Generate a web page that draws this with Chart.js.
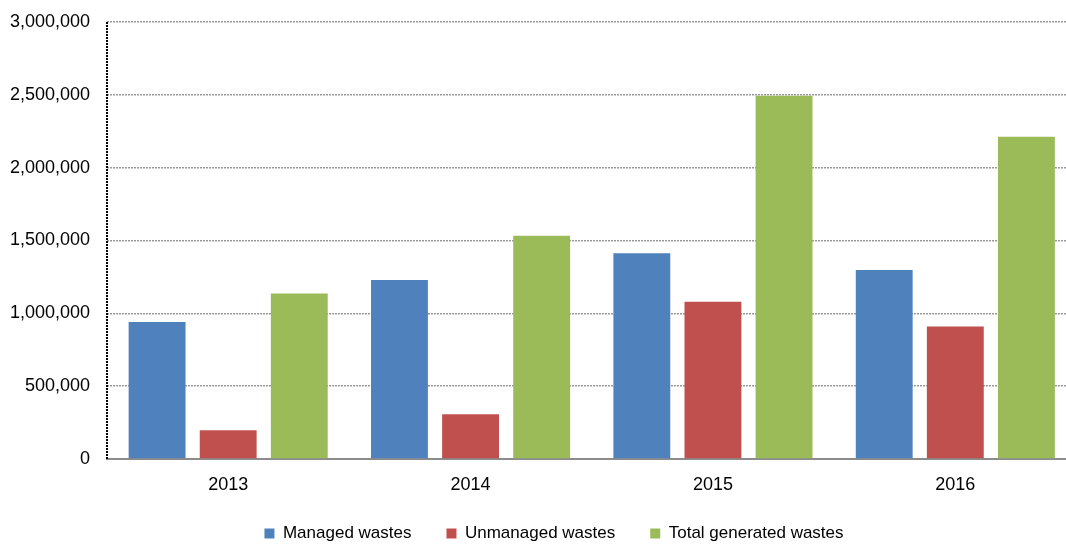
<!DOCTYPE html>
<html>
<head>
<meta charset="utf-8">
<script src="https://cdn.jsdelivr.net/npm/chart.js@4/dist/chart.umd.min.js"></script>
<style>
  html, body { margin: 0; padding: 0; background: #fff; overflow: hidden; width: 1066px; height: 545px; }
  #wrap { position: absolute; left: 0; top: 0; width: 1108px; height: 552px; }
</style>
</head>
<body>
<div id="wrap"><canvas id="c" width="1108" height="552"></canvas></div>
<script>
const categories = ['2013', '2014', '2015', '2016'];
const managedWastes = [940000, 1229000, 1412000, 1298000];
const unmanagedWastes = [197000, 307000, 1080000, 910000];
const totalGeneratedWastes = [1137000, 1533000, 2494000, 2212000];
const seriesNames = ['Managed wastes', 'Unmanaged wastes', 'Total generated wastes'];
const yTicks = [0, 500000, 1000000, 1500000, 2000000, 2500000, 3000000];

const FONT = '"Liberation Sans", Arial, sans-serif';

const dottedYAxis = {
  id: 'dottedYAxis',
  afterDatasetsDraw(chart) {
    const {ctx, chartArea} = chart;
    ctx.save();
    ctx.strokeStyle = '#000';
    ctx.lineWidth = 2;
    ctx.setLineDash([2, 1]);
    ctx.beginPath();
    ctx.moveTo(chartArea.left, chartArea.top);
    ctx.lineTo(chartArea.left, chartArea.bottom);
    ctx.stroke();
    ctx.restore();
  }
};

new Chart(document.getElementById('c'), {
  type: 'bar',
  data: {
    labels: categories,
    datasets: [
      { label: seriesNames[0], data: managedWastes, backgroundColor: '#4F81BD' },
      { label: seriesNames[1], data: unmanagedWastes, backgroundColor: '#C0504D' },
      { label: seriesNames[2], data: totalGeneratedWastes, backgroundColor: '#9BBB59' }
    ]
  },
  options: {
    responsive: false,
    animation: false,
    devicePixelRatio: 1,
    layout: { padding: { left: 0, right: 0, top: 22, bottom: 0 } },
    datasets: { bar: { categoryPercentage: 0.88, barPercentage: 0.80 } },
    plugins: {
      tooltip: { enabled: false },
      legend: {
        position: 'bottom',
        labels: {
          font: { family: FONT, size: 17 },
          color: '#000',
          boxWidth: 10,
          boxHeight: 10,
          padding: 35
        }
      }
    },
    scales: {
      x: {
        afterFit(s) { s.height = 31; },
        grid: { display: false, drawTicks: false },
        border: { display: true, color: '#8c8c8c', width: 2 },
        ticks: { font: { family: FONT, size: 18 }, color: '#000', padding: 15 }
      },
      y: {
        min: 0,
        max: 3000000,
        afterFit(s) { s.width = 107; s.paddingTop = 0; s.paddingBottom = 0; },
        afterBuildTicks(s) { s.ticks = yTicks.map(v => ({ value: v })); },
        grid: { color: '#999999', lineWidth: 1.5, drawTicks: false },
        border: { display: false, dash: [2, 1] },
        ticks: {
          font: { family: FONT, size: 18 },
          color: '#000',
          padding: 17,
          callback: v => v.toLocaleString('en-US')
        }
      },
      yRight: {
        position: 'right',
        display: true,
        afterFit(s) { s.width = 31.5; s.paddingTop = 0; s.paddingBottom = 0; },
        grid: { display: false, drawTicks: false },
        border: { display: false },
        ticks: { display: false }
      }
    }
  },
  plugins: [dottedYAxis]
});
</script>
</body>
</html>
